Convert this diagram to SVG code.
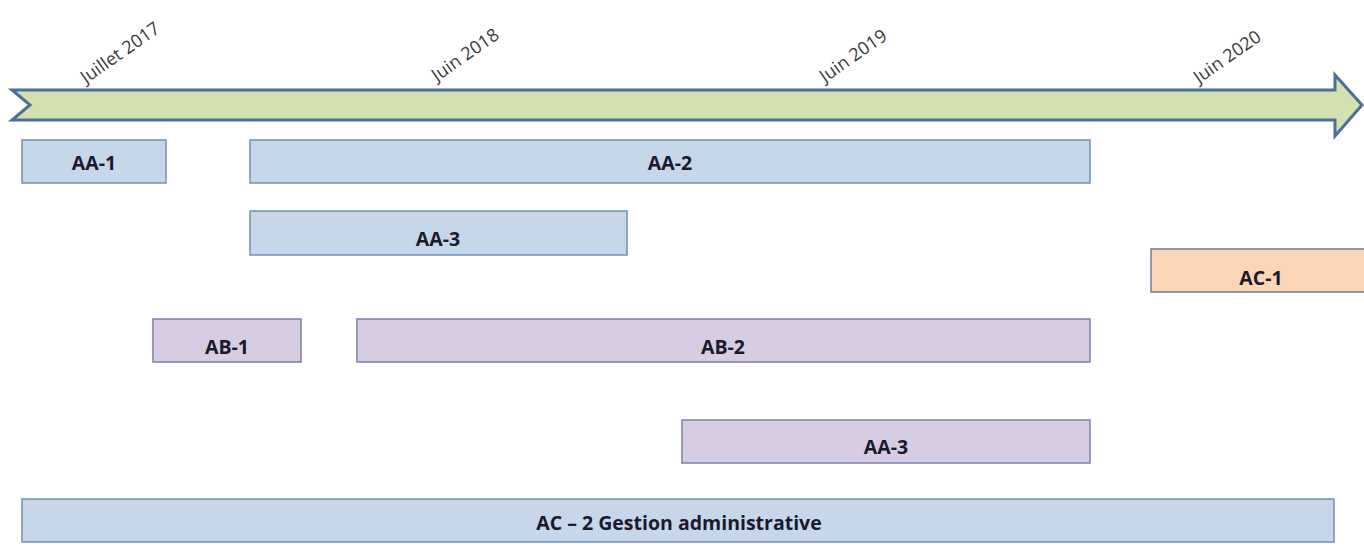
<svg xmlns="http://www.w3.org/2000/svg" width="1364" height="556" viewBox="0 0 1364 556">
<style>
.date{font-family:"Open Sans","Liberation Sans",sans-serif;font-size:18px;fill:#3a3a3a}
.lbl{font-family:"Open Sans","Liberation Sans",sans-serif;font-size:19.5px;font-weight:700;fill:#1a1a2a;text-anchor:middle;dominant-baseline:central}
.blue{fill:#c6d7ea;stroke:#6f8fb7;stroke-width:1.5}
.purple{fill:#d8cce2;stroke:#7d7fa8;stroke-width:1.5}
.orange{fill:#fbd6b6;stroke:#6e7f98;stroke-width:1.5}
</style>
<rect width="1364" height="556" fill="#ffffff"/>
<g id="timeline">
<path d="M12,90 L1335,90 L1335,75 L1362,105 L1335,136 L1335,120 L12,120 L30,105 Z" fill="#d2e1ae" stroke="#4b6f9c" stroke-width="3" stroke-linejoin="miter"/>
<text class="date" transform="translate(86,84) rotate(-35)">Juillet 2017</text>
<text class="date" transform="translate(437,82) rotate(-35)">Juin 2018</text>
<text class="date" transform="translate(825,83) rotate(-35)">Juin 2019</text>
<text class="date" transform="translate(1199,84) rotate(-35)">Juin 2020</text>
</g>
<g id="AA-1"><rect class="blue" x="22" y="140" width="144" height="43"/><text class="lbl" x="94" y="162">AA-1</text></g>
<g id="AA-2"><rect class="blue" x="250" y="140" width="840" height="43"/><text class="lbl" x="670" y="162">AA-2</text></g>
<g id="AA-3a"><rect class="blue" x="250" y="211" width="377" height="44"/><text class="lbl" x="438" y="238">AA-3</text></g>
<g id="AC-1"><rect class="orange" x="1151" y="249" width="220" height="43"/><text class="lbl" x="1261" y="277">AC-1</text></g>
<g id="AB-1"><rect class="purple" x="153" y="319" width="148" height="43"/><text class="lbl" x="227" y="346">AB-1</text></g>
<g id="AB-2"><rect class="purple" x="357" y="319" width="733" height="43"/><text class="lbl" x="723" y="346">AB-2</text></g>
<g id="AA-3b"><rect class="purple" x="682" y="420" width="408" height="43"/><text class="lbl" x="886" y="446">AA-3</text></g>
<g id="AC-2"><rect class="blue" x="22" y="499" width="1312" height="43"/><text class="lbl" x="679" y="522">AC – 2 Gestion administrative</text></g>
<g id="connectors"></g>
</svg>
